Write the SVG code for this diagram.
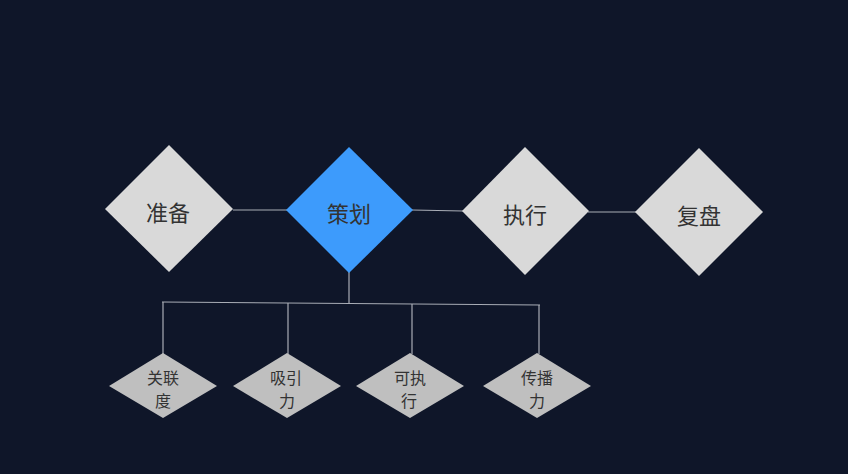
<svg xmlns="http://www.w3.org/2000/svg" width="848" height="474" viewBox="0 0 848 474">
<style>
.big{fill:#d9d9d9}
.blue{fill:#3d9bfc}
.small{fill:#bfbfbf}
.t{font-family:"Noto Sans CJK SC","Noto Sans",sans-serif;fill:#333333;text-anchor:middle;dominant-baseline:central}
.tb{font-size:22px}
.ts{font-size:16px}
.ln{stroke:#a9adb6;stroke-width:1.2;fill:none}
</style>
<rect width="848" height="474" fill="#0f1629"/>
<g id="connectors">
<line class="ln" x1="233" y1="210" x2="287" y2="210"/>
<line class="ln" x1="412" y1="210" x2="463" y2="211"/>
<line class="ln" x1="588" y1="212" x2="636" y2="212"/>
<line class="ln" x1="349" y1="245" x2="349" y2="303"/>
<line class="ln" x1="162" y1="302" x2="540" y2="305"/>
<line class="ln" x1="163" y1="302" x2="163" y2="354"/>
<line class="ln" x1="288" y1="303" x2="288" y2="354"/>
<line class="ln" x1="412" y1="304" x2="412" y2="354"/>
<line class="ln" x1="539" y1="305" x2="539" y2="354"/>
</g>
<g id="zhunbei">
<polygon class="big" points="169,145 233,209 169,272 105,209"/>
<text class="t tb" x="168" y="211">准备</text>
</g>
<g id="cehua">
<polygon class="blue" points="349,147 413,210 349,273 286,210"/>
<text class="t tb" x="349" y="212">策划</text>
</g>
<g id="zhixing">
<polygon class="big" points="525,147 589,211 525,275 462,211"/>
<text class="t tb" x="525" y="213">执行</text>
</g>
<g id="fupan">
<polygon class="big" points="699,148 763,212 699,276 635,212"/>
<text class="t tb" x="699" y="214">复盘</text>
</g>
<g id="guanliandu">
<polygon class="small" points="163,353 217,386 163,418 109,386"/>
<text class="t ts" x="163" y="377">关联</text>
<text class="t ts" x="163" y="400">度</text>
</g>
<g id="xiyinli">
<polygon class="small" points="287,353 341,386 287,418 233,386"/>
<text class="t ts" x="286" y="377">吸引</text>
<text class="t ts" x="287" y="400">力</text>
</g>
<g id="kezhixing">
<polygon class="small" points="410,353 464,386 410,418 356,386"/>
<text class="t ts" x="410" y="377">可执</text>
<text class="t ts" x="409" y="400">行</text>
</g>
<g id="chuanboli">
<polygon class="small" points="537,353 591,386 537,418 483,386"/>
<text class="t ts" x="537" y="377">传播</text>
<text class="t ts" x="537" y="400">力</text>
</g>
</svg>
